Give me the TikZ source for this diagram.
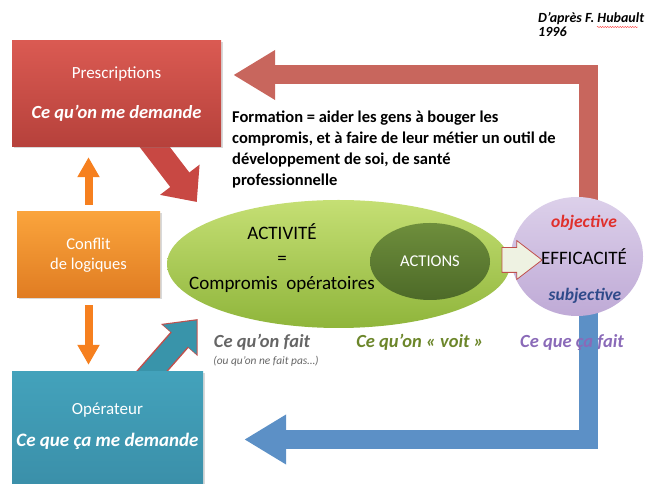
\documentclass[tikz,border=0pt]{standalone}
\usepackage{fontspec}
\setmainfont{Carlito}
\usetikzlibrary{arrows.meta,shapes.geometric,shapes.arrows,shadows,backgrounds,decorations.pathmorphing}

\definecolor{rougeA}{HTML}{DA5A52}
\definecolor{rougeB}{HTML}{B6413B}
\definecolor{orangeA}{HTML}{FAA43C}
\definecolor{orangeB}{HTML}{E07C22}
\definecolor{bleuA}{HTML}{43A2BB}
\definecolor{bleuB}{HTML}{3A8EA8}
\definecolor{vertA}{HTML}{C5DF74}
\definecolor{vertB}{HTML}{8FB53B}
\definecolor{oliveA}{HTML}{6E8E3C}
\definecolor{oliveB}{HTML}{4D6A28}
\definecolor{violetA}{HTML}{DCD0EA}
\definecolor{violetB}{HTML}{BFAAD6}
\definecolor{orangefl}{HTML}{F6801F}
\definecolor{rougefl}{HTML}{C8665D}
\definecolor{bleufl}{HTML}{5C90C6}
\definecolor{diagrouge}{HTML}{C84843}
\definecolor{diagbleu}{HTML}{3994AA}
\definecolor{contour}{HTML}{C0504D}
\definecolor{creme}{HTML}{EEF2E2}
\definecolor{objrouge}{HTML}{E0302C}
\definecolor{subbleu}{HTML}{2F4A8A}
\definecolor{grisfonce}{HTML}{666666}
\definecolor{olivetexte}{HTML}{6C862A}
\definecolor{violettexte}{HTML}{8A6AB8}

\newcommand\taillepolice[2]{\fontsize{#1}{#2}\selectfont}

\begin{document}
\begin{tikzpicture}[x=1pt,y=1pt,
    boite/.style={rectangle,inner sep=0pt,align=center,text=white,
      drop shadow={shadow xshift=1.5pt,shadow yshift=-1.5pt,opacity=0.3}},
    bulle/.style={ellipse,inner sep=0pt},
    grossefleche/.style={line width=19pt,line join=miter,-{Triangle[width=47pt,length=42pt]}},
    flecheorange/.style={draw=orangefl,line width=8pt,-{Triangle[width=21pt,length=20pt]}},
    legende/.style={font=\taillepolice{18.5}{22}\bfseries\itshape}]

  \useasboundingbox (0,0) rectangle (653,484);

  % boites de gauche
  \node[boite,top color=rougeA,bottom color=rougeB,minimum width=209pt,minimum height=106pt,
    font=\taillepolice{17}{22}] (presc) at (116.5,390)
    {Prescriptions\\[18pt]{\taillepolice{18.5}{22}\bfseries\itshape Ce qu’on me demande}};
  \node[boite,top color=orangeA,bottom color=orangeB,minimum width=143pt,minimum height=86pt,
    font=\taillepolice{16.5}{20}] (conflit) at (88.5,229) {Conflit\\de logiques};
  \node[boite,top color=bleuA,bottom color=bleuB,minimum width=191pt,minimum height=122pt] (oper) at (107.5,51) {};
  \node[text=white,align=center,font=\taillepolice{17}{22}] (operT) at (107.5,58)
    {Opérateur\\[10pt]{\taillepolice{19}{22}\bfseries\itshape Ce que ça me demande}};

  \draw[flecheorange,shorten <=7pt,shorten >=10pt] (conflit.north) -- (conflit.north |- presc.south);
  \draw[flecheorange,shorten <=7pt,shorten >=7pt] (conflit.south) -- (conflit.south |- oper.north);

  % activite et efficacite
  \node[bulle,top color=vertA,bottom color=vertB,minimum width=343pt,minimum height=128pt] (activite) at (338.5,220) {};
  \node[align=center,font=\taillepolice{19}{25}] (activiteT) at (282,226) {ACTIVITÉ\\=\\Compromis\ \ opératoires};
  \node[bulle,top color=oliveA,bottom color=oliveB,minimum width=120pt,minimum height=77pt,
    text=white,font=\taillepolice{16.5}{20}] (actions) at (430,222.5) {ACTIONS};
  \node[bulle,top color=violetA,bottom color=violetB,minimum width=132pt,minimum height=119pt] (eff) at (577,227.5) {};
  \node[single arrow,draw=contour,fill=creme,line width=0.8pt,inner xsep=0pt,inner ysep=12pt,
    minimum height=40pt,single arrow head extend=7pt,single arrow tip angle=75] (fleche) at (514,224) {};
  \node[font=\taillepolice{19}{22}] (effT) at ([xshift=7pt]eff.center) {EFFICACITÉ};
  \node[text=objrouge,font=\taillepolice{17.5}{20}\bfseries\itshape] (obj) at ([xshift=7pt,yshift=34pt]eff.center) {objective};
  \node[text=subbleu,font=\taillepolice{17.5}{20}\bfseries\itshape] (subj) at ([xshift=8pt,yshift=-39pt]eff.center) {subjective};

  % textes
  \node[anchor=north west,inner sep=0pt,align=left,font=\taillepolice{16.5}{21}\bfseries] (formation) at (232,373)
    {Formation = aider les gens à bouger les\\compromis, et à faire de leur métier un outil de\\développement de soi, de santé\\professionnelle};
  \node[legende,text=grisfonce] (fait) at (262,142) {Ce qu’on fait};
  \node[font=\taillepolice{11.4}{13}\itshape,text=grisfonce] (faitpas) at (266,123) {(ou qu’on ne fait pas…)};
  \node[legende,text=olivetexte] (voit) at (420,142) {Ce qu’on « voit »};
  \node[legende,text=violettexte] (cafait) at (572,141) {Ce que ça fait};
  \node[anchor=west,inner sep=0pt,align=left,font=\taillepolice{14}{14}\bfseries\itshape] (source) at (538,459)
    {D’après F. Hubault\\1996};
  \draw[decorate,decoration={snake,amplitude=0.6pt,segment length=2.5pt},red!80,line width=0.4pt] (597,457) -- (638,457);

  \begin{pgfonlayer}{background}
    \draw[grossefleche,draw=rougefl] ([xshift=11.5pt]eff.center) |- ([xshift=12pt,yshift=19pt]presc.east);
    \draw[grossefleche,draw=bleufl] ([xshift=11.5pt]eff.center) |- ([xshift=41pt,yshift=-6.5pt]oper.east);
    \draw[line width=24pt,draw=diagrouge,-{Triangle[width=48pt,length=28pt]}]
      ([xshift=31.5pt,yshift=9pt]presc.south) -- ([xshift=30pt,yshift=62pt]activite.west);
    \draw[line width=24pt,draw=contour,-{Triangle[width=47pt,length=28pt]}]
      ([xshift=33.5pt,yshift=-12pt]oper.north) -- ([xshift=31pt,yshift=-55pt]activite.west);
    \draw[line width=21pt,draw=diagbleu,-{Triangle[width=43pt,length=25.5pt]},shorten >=1.8pt]
      ([xshift=33.5pt,yshift=-12pt]oper.north) -- ([xshift=31pt,yshift=-55pt]activite.west);
  \end{pgfonlayer}
\end{tikzpicture}
\end{document}
